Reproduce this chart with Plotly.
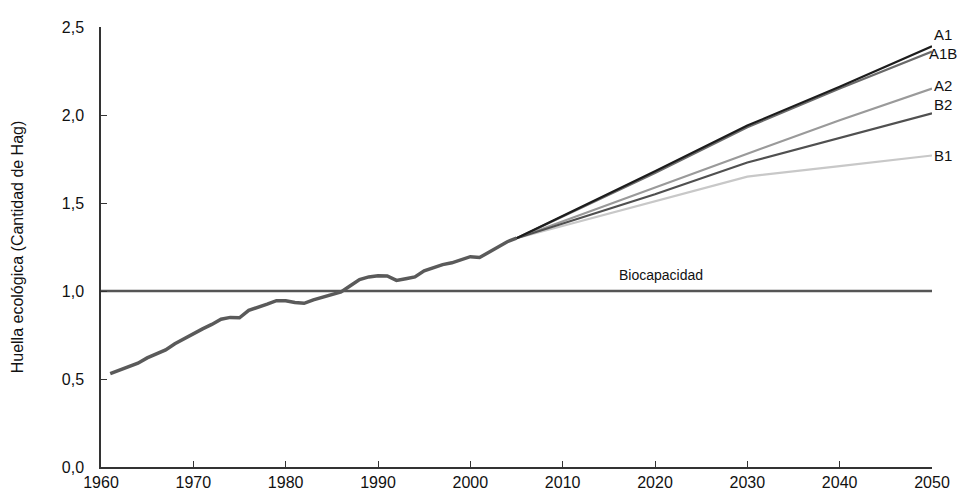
import plotly.graph_objects as go

# Historical ecological footprint (number of planets)
hist_years = list(range(1961, 2006))
hist_values = [0.53, 0.55, 0.566, 0.59, 0.62, 0.645, 0.665, 0.70, 0.73, 0.76,
               0.785, 0.81, 0.84, 0.85, 0.848, 0.89, 0.905, 0.925, 0.945, 0.945,
               0.935, 0.93, 0.95, 0.965, 0.975, 0.995, 1.03, 1.065, 1.08, 1.087,
               1.085, 1.06, 1.07, 1.08, 1.115, 1.135, 1.15, 1.16, 1.175, 1.195,
               1.19, 1.22, 1.255, 1.28, 1.30]

# Scenario projections
scen_years = [2005, 2020, 2030, 2040, 2050]
A1 = [1.30, 1.68, 1.94, 2.16, 2.39]
A1B = [1.30, 1.67, 1.93, 2.15, 2.36]
A2 = [1.30, 1.59, 1.78, 1.97, 2.15]
B2 = [1.30, 1.55, 1.73, 1.87, 2.01]
B1 = [1.30, 1.51, 1.65, 1.71, 1.77]

bio_years = [1960, 2050]
bio_values = [1.0, 1.0]

scenarios = [("B1", B1, "#c8c8c8", 1.77),
             ("A2", A2, "#9a9a9a", 2.165),
             ("B2", B2, "#505050", 2.057),
             ("A1B", A1B, "#6a6a6a", 2.347),
             ("A1", A1, "#1c1c1c", 2.455)]

FONT = "Liberation Sans, Arial, sans-serif"

fig = go.Figure()
fig.add_trace(go.Scatter(x=bio_years, y=bio_values, mode="lines",
                         line=dict(color="#555555", width=2.5), showlegend=False))
for name, vals, col, _ in scenarios:
    fig.add_trace(go.Scatter(x=scen_years, y=vals, mode="lines", name=name,
                             line=dict(color=col, width=2.2), showlegend=False))
fig.add_trace(go.Scatter(x=hist_years, y=hist_values, mode="lines",
                         line=dict(color="#5a5a5a", width=3.5), showlegend=False))

for name, vals, col, ypos in scenarios:
    fig.add_annotation(x=2050, y=ypos, text=name, showarrow=False,
                       xanchor="center", xshift=11,
                       font=dict(size=15, color="#111111", family=FONT))

fig.add_annotation(x=2020.6, y=1.0, text="Biocapacidad", showarrow=False,
                   yanchor="bottom", yshift=6,
                   font=dict(size=14, color="#111111", family=FONT))

fig.update_layout(
    width=958, height=493,
    margin=dict(l=101, r=26, t=27, b=26),
    plot_bgcolor="white", paper_bgcolor="white",
    separators=",.",
    font=dict(family=FONT, size=16, color="#111111"),
)
fig.update_xaxes(range=[1960, 2050], tickvals=list(range(1960, 2051, 10)),
                 automargin=False,
                 showgrid=False, zeroline=False, showline=True,
                 linecolor="#333333", linewidth=1.5, ticks="inside", ticklen=6,
                 tickcolor="#333333", tickfont=dict(size=16))
fig.update_yaxes(range=[0, 2.5], tickvals=[0, 0.5, 1.0, 1.5, 2.0, 2.5],
                 automargin=False,
                 tickformat=".1f", showgrid=False, zeroline=False, showline=True,
                 linecolor="#333333", linewidth=1.5, ticks="inside", ticklen=6,
                 tickcolor="#333333", tickfont=dict(size=16),
                 ticklabelstandoff=12,
                 title=dict(text="Huella ecológica (Cantidad de Hag)",
                            font=dict(size=16), standoff=34))

fig.write_html("out.html",
               config={"displayModeBar": False},
               post_script="document.body.style.margin='0';"
                           "document.body.style.overflow='hidden';")
